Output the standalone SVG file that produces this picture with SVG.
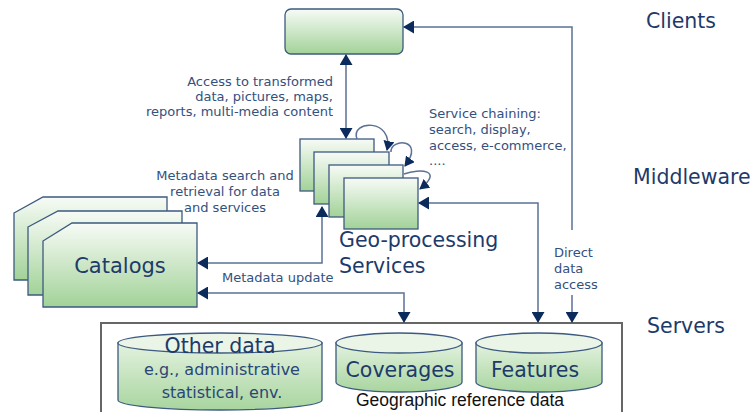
<svg xmlns="http://www.w3.org/2000/svg" width="756" height="412" viewBox="0 0 756 412">
<defs>
<linearGradient id="gBox" x1="0" y1="0" x2="0" y2="1">
<stop offset="0" stop-color="#f7fbf6"/>
<stop offset="1" stop-color="#a2d298"/>
</linearGradient>
<linearGradient id="gCyl" x1="0" y1="0" x2="0" y2="1">
<stop offset="0" stop-color="#e3f2df"/>
<stop offset="1" stop-color="#a8d59f"/>
</linearGradient>
<marker id="ah" markerWidth="11" markerHeight="13" refX="10" refY="6.5" orient="auto-start-reverse" markerUnits="userSpaceOnUse">
<path d="M0,0 L11,6.5 L0,13 Z" fill="#0b2b5c"/>
</marker>
<marker id="ahs" markerWidth="10" markerHeight="11" refX="9" refY="5.5" orient="auto" markerUnits="userSpaceOnUse">
<path d="M0,0 L10,5.5 L0,11 Z" fill="#0b2b5c"/>
</marker>
</defs>
<style>
.box{fill:url(#gBox);stroke:#3d5a80;stroke-width:1.3}
.cyl{fill:url(#gCyl);stroke:#3d5a80;stroke-width:1.3}
.cyltop{fill:#eaf5e7;stroke:#3d5a80;stroke-width:1.3}
.ln{fill:none;stroke:#5b7196;stroke-width:1.5}
.big{font-family:"DejaVu Sans",Verdana,sans-serif;font-size:20.5px;fill:#1d3a6a}
.sm{font-family:"DejaVu Sans",Verdana,sans-serif;font-size:13px;fill:#34507e}
.mid{font-family:"DejaVu Sans",Verdana,sans-serif;font-size:16px;fill:#2a4676}
.ar{font-family:"Liberation Sans",Arial,sans-serif;font-size:17.5px;fill:#111}
</style>
<rect width="756" height="412" fill="#ffffff"/>

<g id="tier-labels">
<text class="big" x="646" y="28">Clients</text>
<text class="big" x="633" y="184">Middleware</text>
<text class="big" x="647" y="333">Servers</text>
</g>

<g id="servers">
<rect x="101" y="323" width="521" height="95" fill="#ffffff" stroke="#666666" stroke-width="2"/>
<text class="ar" x="460" y="406" text-anchor="middle">Geographic reference data</text>
</g>

<g id="other-data">
<path class="cyl" d="M118,343 V400 A102,10 0 0 0 322,400 V343 Z"/>
<ellipse class="cyltop" cx="220" cy="343" rx="102" ry="10"/>
<text class="big" x="220" y="353" text-anchor="middle">Other data</text>
<text class="mid" x="222" y="375" text-anchor="middle">e.g., administrative</text>
<text class="mid" x="222" y="398" text-anchor="middle">statistical, env.</text>
</g>

<g id="coverages">
<path class="cyl" d="M336,343 V382 A63,10 0 0 0 462,382 V343 Z"/>
<ellipse class="cyltop" cx="399" cy="343" rx="63" ry="10"/>
<text class="big" x="400" y="377" text-anchor="middle">Coverages</text>
</g>

<g id="features">
<path class="cyl" d="M476,343 V382 A63,10 0 0 0 602,382 V343 Z"/>
<ellipse class="cyltop" cx="539" cy="343" rx="63" ry="10"/>
<text class="big" x="535" y="377" text-anchor="middle">Features</text>
</g>

<g id="client">
<rect class="box" x="285" y="9" width="118" height="45" rx="6"/>
</g>

<g id="catalogs">
<path class="box" d="M14,213 L43,197 H167 V280 H14 Z"/>
<path class="box" d="M28,227 L58,211 H182 V295 H28 Z"/>
<path class="box" d="M43,241 L72,223 H197 V307 H43 Z"/>
<text class="big" x="120" y="273" text-anchor="middle" style="font-size:21px">Catalogs</text>
</g>

<g id="geo-processing">
<rect class="box" x="300" y="139" width="74" height="52"/>
<rect class="box" x="314" y="152" width="75" height="52"/>
<rect class="box" x="329" y="165" width="74" height="52"/>
<rect class="box" x="344" y="178" width="74" height="51"/>
<text class="big" x="339" y="247">Geo-processing</text>
<text class="big" x="339" y="273">Services</text>
</g>

<g id="connectors">
<path class="ln" d="M346,55 V138" marker-start="url(#ah)" marker-end="url(#ah)"/>
<path class="ln" d="M572,230 V27 H404" marker-end="url(#ah)"/>
<path class="ln" d="M572,295 V322" marker-end="url(#ah)"/>
<path class="ln" d="M419,203 H538 V322" marker-start="url(#ah)" marker-end="url(#ah)"/>
<path class="ln" d="M322,207 V263 H198" marker-start="url(#ah)" marker-end="url(#ah)"/>
<path class="ln" d="M198,293 H404 V322" marker-start="url(#ah)" marker-end="url(#ah)"/>
<path class="ln" d="M357,139 C350,120 394,118 387,150" marker-end="url(#ahs)"/>
<path class="ln" d="M391,152 C390,138 426,138 405,166" marker-end="url(#ahs)"/>
<path class="ln" d="M404,174 C420,168 444,170 420,189" marker-end="url(#ahs)"/>
</g>

<g id="labels">
<text class="sm" text-anchor="end" x="333" y="86">Access to transformed</text>
<text class="sm" text-anchor="end" x="333" y="101">data, pictures, maps,</text>
<text class="sm" text-anchor="end" x="333" y="116">reports, multi-media content</text>
<text class="sm" text-anchor="middle" x="225" y="180">Metadata search and</text>
<text class="sm" text-anchor="middle" x="225" y="196">retrieval for data</text>
<text class="sm" text-anchor="middle" x="225" y="212">and services</text>
<text class="sm" x="429" y="118">Service chaining:</text>
<text class="sm" x="429" y="134">search, display,</text>
<text class="sm" x="429" y="150">access, e-commerce,</text>
<text class="sm" x="429" y="165">....</text>
<text class="sm" x="554" y="257">Direct</text>
<text class="sm" x="554" y="273">data</text>
<text class="sm" x="554" y="289">access</text>
<text class="sm" x="222" y="282">Metadata update</text>
</g>
</svg>
